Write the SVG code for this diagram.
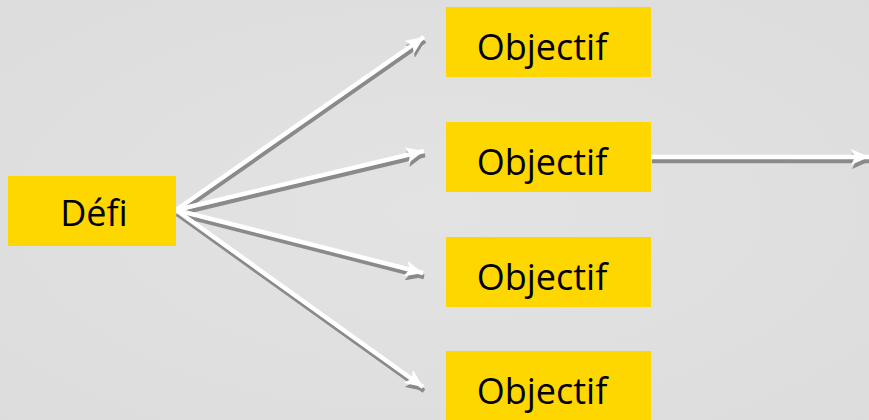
<svg xmlns="http://www.w3.org/2000/svg" width="869" height="420" viewBox="0 0 869 420">
<defs>
<radialGradient id="bg" cx="50%" cy="50%" r="75%">
<stop offset="0" stop-color="#e3e3e3"/>
<stop offset="1" stop-color="#dcdcdc"/>
</radialGradient>
<marker id="hw" markerUnits="userSpaceOnUse" markerWidth="20" markerHeight="16" viewBox="0 0 20 16" refX="18" refY="8" orient="auto">
<path d="M0,0 L18,8 L0,16 L4,8 Z" fill="#ffffff"/>
</marker>
<marker id="hs" markerUnits="userSpaceOnUse" markerWidth="20" markerHeight="16" viewBox="0 0 20 16" refX="18" refY="8" orient="auto">
<path d="M0,0 L18,8 L0,16 L4,8 Z" fill="#8a8a8a"/>
</marker>
</defs>
<style>
.box{fill:#ffd700}
.lbl{font-family:"Open Sans","Liberation Sans",sans-serif;font-size:36px;fill:#000;text-anchor:middle}
.w{stroke:#ffffff;stroke-width:4.5;fill:none;marker-end:url(#hw)}
.s{stroke:#8a8a8a;stroke-width:4.5;fill:none;marker-end:url(#hs)}
</style>
<rect width="869" height="420" fill="url(#bg)"/>
<g id="connectors">
<g transform="translate(1,4)">
<line class="s" x1="176" y1="210" x2="424" y2="37"/>
<line class="s" x1="176" y1="210" x2="424" y2="151"/>
<line class="s" x1="176" y1="210" x2="423" y2="273"/>
<line class="s" x1="176" y1="210" x2="423" y2="387"/>
<line class="s" x1="651" y1="157" x2="869" y2="157"/>
</g>
<line class="w" x1="176" y1="210" x2="424" y2="37"/>
<line class="w" x1="176" y1="210" x2="424" y2="151"/>
<line class="w" x1="176" y1="210" x2="423" y2="273"/>
<line class="w" x1="176" y1="210" x2="423" y2="387"/>
<line class="w" x1="651" y1="157" x2="869" y2="157"/>
</g>
<g id="defi">
<rect class="box" x="8" y="176" width="168" height="70"/>
<text class="lbl" x="94" y="226">Défi</text>
</g>
<g id="objectif1">
<rect class="box" x="446" y="7" width="205" height="70"/>
<text class="lbl" x="542" y="60">Objectif</text>
</g>
<g id="objectif2">
<rect class="box" x="446" y="122" width="205" height="70"/>
<text class="lbl" x="542" y="175">Objectif</text>
</g>
<g id="objectif3">
<rect class="box" x="446" y="237" width="205" height="70"/>
<text class="lbl" x="542" y="290">Objectif</text>
</g>
<g id="objectif4">
<rect class="box" x="446" y="351" width="205" height="70"/>
<text class="lbl" x="542" y="404">Objectif</text>
</g>
</svg>
